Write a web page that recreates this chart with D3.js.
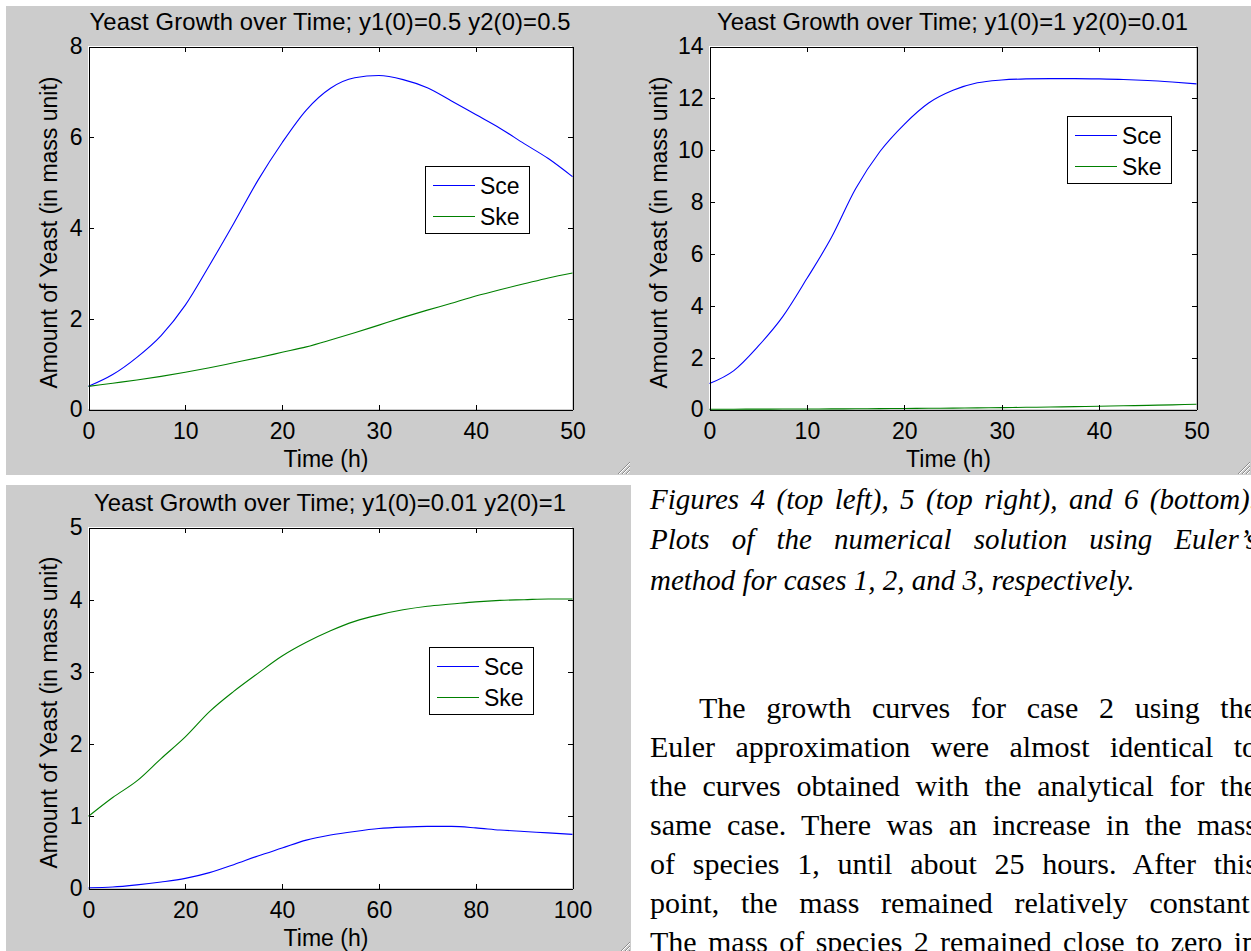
<!DOCTYPE html>
<html>
<head>
<meta charset="utf-8">
<script src="https://cdn.jsdelivr.net/npm/d3@7"></script>
<style>
  body { margin: 0; background: #fff; width: 1251px; height: 951px; overflow: hidden; position: relative; }
  svg { position: absolute; left: 0; top: 0; }
  .ln { position: absolute; left: 650px; width: 607px; font-family: 'Liberation Serif', 'Times New Roman', serif;
        font-size: 30px; line-height: 39px; text-align: justify; text-align-last: justify; color: #000; }
  .cap { font-style: italic; font-size: 29px; }
  .last { text-align-last: left; }
</style>
</head>
<body>
<script>
(function() {

    // Case 1: y1(0)=0.5 y2(0)=0.5
    var time1 = [0, 2.5, 5, 7.5, 10, 12.5, 15, 17.5, 20, 22.5, 25, 27.5, 30, 32.5, 35, 37.5, 40, 42.5, 45, 47.5, 50];
    var sce1 = [0.51, 0.77, 1.15, 1.63, 2.30, 3.18, 4.10, 5.05, 5.88, 6.60, 7.08, 7.31, 7.36, 7.27, 7.09, 6.80, 6.50, 6.20, 5.86, 5.53, 5.13];
    var ske1 = [0.51, 0.58, 0.65, 0.73, 0.82, 0.92, 1.03, 1.14, 1.26, 1.38, 1.53, 1.69, 1.86, 2.03, 2.19, 2.34, 2.50, 2.64, 2.77, 2.90, 3.01];
    var xTicks1 = [0, 10, 20, 30, 40, 50];
    var yTicks1 = [0, 2, 4, 6, 8];
    var title1 = 'Yeast Growth over Time; y1(0)=0.5 y2(0)=0.5';

    // Case 2: y1(0)=1 y2(0)=0.01
    var time2 = [0, 2.5, 5, 7.5, 10, 12.5, 15, 17.5, 20, 22.5, 25, 27.5, 30, 32.5, 35, 37.5, 40, 42.5, 45, 47.5, 50];
    var sce2 = [1.00, 1.50, 2.44, 3.57, 5.05, 6.62, 8.51, 9.95, 11.00, 11.82, 12.31, 12.60, 12.71, 12.75, 12.76, 12.76, 12.75, 12.73, 12.69, 12.63, 12.56];
    var ske2 = [0.01, 0.012, 0.014, 0.017, 0.02, 0.024, 0.028, 0.033, 0.039, 0.046, 0.054, 0.063, 0.073, 0.084, 0.097, 0.11, 0.125, 0.142, 0.16, 0.18, 0.2];
    var xTicks2 = [0, 10, 20, 30, 40, 50];
    var yTicks2 = [0, 2, 4, 6, 8, 10, 12, 14];
    var title2 = 'Yeast Growth over Time; y1(0)=1 y2(0)=0.01';

    // Case 3: y1(0)=0.01 y2(0)=1
    var time3 = [0, 5, 10, 15, 20, 25, 30, 35, 40, 45, 50, 55, 60, 65, 70, 75, 80, 85, 90, 95, 100];
    var sce3 = [0.01, 0.02, 0.05, 0.09, 0.14, 0.22, 0.33, 0.45, 0.56, 0.67, 0.74, 0.79, 0.83, 0.85, 0.86, 0.86, 0.84, 0.81, 0.79, 0.77, 0.75];
    var ske3 = [1.00, 1.26, 1.49, 1.80, 2.10, 2.45, 2.73, 2.98, 3.22, 3.41, 3.57, 3.70, 3.79, 3.86, 3.91, 3.94, 3.97, 3.99, 4.00, 4.01, 4.01];
    var xTicks3 = [0, 20, 40, 60, 80, 100];
    var yTicks3 = [0, 1, 2, 3, 4, 5];
    var title3 = 'Yeast Growth over Time; y1(0)=0.01 y2(0)=1';

    var seriesNames = ['Sce', 'Ske'];
    var seriesColors = ['#0000ff', '#008000'];
    var xLabel = 'Time (h)';
    var yLabel = 'Amount of Yeast (in mass unit)';

    var font = "'Liberation Sans', Arial, sans-serif";

    // Figure windows (grey background) and axes boxes
    var panels = [
        {bg: [6, 6, 625, 469], box: [88, 572, 46, 409], xMax: 50, yMax: 8, time: time1, sce: sce1, ske: ske1,
         xTicks: xTicks1, yTicks: yTicks1, title: title1, titleLen: 481, ylabX: 57, legend: [425, 166]},
        {bg: [631, 6, 620, 469], box: [709, 1196, 46, 409], xMax: 50, yMax: 14, time: time2, sce: sce2, ske: ske2,
         xTicks: xTicks2, yTicks: yTicks2, title: title2, titleLen: 471, ylabX: 667, legend: [1067, 116]},
        {bg: [6, 485, 625, 470], box: [88, 572, 527, 888], xMax: 100, yMax: 5, time: time3, sce: sce3, ske: ske3,
         xTicks: xTicks3, yTicks: yTicks3, title: title3, titleLen: 472, ylabX: 57, legend: [429, 647]}
    ];

    var svg = d3.select('body').append('svg')
        .attr('width', 1251)
        .attr('height', 951);

    panels.forEach(function(p, k) {
        var left = p.box[0], right = p.box[1], top = p.box[2], bottom = p.box[3];

        // grey figure background
        svg.append('rect')
            .attr('x', p.bg[0]).attr('y', p.bg[1])
            .attr('width', p.bg[2]).attr('height', p.bg[3])
            .attr('fill', '#cccccc');

        // resize grip in the corner
        var gx = p.bg[0] + p.bg[2] - 1, gy = p.bg[1] + p.bg[3] - 1;
        [4, 8, 12].forEach(function(o) {
            svg.append('line')
                .attr('x1', gx - o).attr('y1', gy).attr('x2', gx).attr('y2', gy - o)
                .attr('stroke', '#8c8c8c').attr('stroke-width', 1);
            svg.append('line')
                .attr('x1', gx - o + 1).attr('y1', gy).attr('x2', gx).attr('y2', gy - o + 1)
                .attr('stroke', '#ffffff').attr('stroke-width', 1);
        });

        // white axes area
        svg.append('rect')
            .attr('x', left).attr('y', top)
            .attr('width', right - left).attr('height', bottom - top)
            .attr('fill', '#ffffff');

        var x = d3.scaleLinear().domain([0, p.xMax]).range([left + 0.5, right + 0.5]);
        var y = d3.scaleLinear().domain([0, p.yMax]).range([bottom + 0.5, top + 0.5]);

        svg.append('clipPath').attr('id', 'clip' + k)
          .append('rect')
            .attr('x', left).attr('y', top - 1)
            .attr('width', right - left + 1).attr('height', bottom - top + 2);

        var line = d3.line()
            .x(function(d, i) { return x(p.time[i]); })
            .y(function(d) { return y(d); })
            .curve(d3.curveMonotoneX);

        [p.sce, p.ske].forEach(function(s, i) {
            svg.append('path')
                .datum(s)
                .attr('clip-path', 'url(#clip' + k + ')')
                .attr('fill', 'none')
                .attr('stroke', seriesColors[i])
                .attr('stroke-width', 1.1)
                .attr('d', line);
        });

        // axes on all four sides, ticks pointing inward
        var styleAxis = function(g) {
            g.attr('font-family', font).attr('font-size', 23).style('color', '#000');
            g.selectAll('path, line').attr('shape-rendering', 'crispEdges');
        };
        svg.append('g')
            .attr('transform', 'translate(0,' + (bottom + 0.5) + ')')
            .call(d3.axisBottom(x).tickValues(p.xTicks).tickFormat(d3.format('d'))
                .tickSizeInner(-5).tickSizeOuter(0).tickPadding(13))
            .call(styleAxis);
        svg.append('g')
            .attr('transform', 'translate(0,' + (top + 0.5) + ')')
            .call(d3.axisTop(x).tickValues(p.xTicks).tickSizeInner(-5).tickSizeOuter(0).tickFormat(''))
            .call(styleAxis);
        svg.append('g')
            .attr('transform', 'translate(' + (left + 0.5) + ',0)')
            .call(d3.axisLeft(y).tickValues(p.yTicks).tickFormat(d3.format('d'))
                .tickSizeInner(-5).tickSizeOuter(0).tickPadding(6))
            .call(styleAxis);
        svg.append('g')
            .attr('transform', 'translate(' + (right + 0.5) + ',0)')
            .call(d3.axisRight(y).tickValues(p.yTicks).tickSizeInner(-5).tickSizeOuter(0).tickFormat(''))
            .call(styleAxis);

        // title and axis labels
        svg.append('text')
            .attr('x', (left + right) / 2).attr('y', top - 16)
            .attr('text-anchor', 'middle')
            .attr('font-family', font).attr('font-size', 23.8)
            .attr('textLength', p.titleLen).attr('lengthAdjust', 'spacing')
            .text(p.title);
        svg.append('text')
            .attr('x', (left + right) / 2 - 4).attr('y', bottom + 58)
            .attr('text-anchor', 'middle')
            .attr('font-family', font).attr('font-size', 23)
            .text(xLabel);
        svg.append('text')
            .attr('transform', 'translate(' + p.ylabX + ',' + ((top + bottom) / 2 + 5) + ') rotate(-90)')
            .attr('text-anchor', 'middle')
            .attr('font-family', font).attr('font-size', 23)
            .text(yLabel);

        // legend
        var lg = svg.append('g').attr('transform', 'translate(' + p.legend[0] + ',' + p.legend[1] + ')');
        lg.append('rect')
            .attr('x', 0.5).attr('y', 0.5).attr('width', 104).attr('height', 67)
            .attr('fill', '#fff').attr('stroke', '#000').attr('stroke-width', 1);
        seriesNames.forEach(function(name, i) {
            var ly = 19.5 + i * 31;
            lg.append('line')
                .attr('x1', 8).attr('x2', 50).attr('y1', ly).attr('y2', ly)
                .attr('stroke', seriesColors[i]).attr('stroke-width', 1.1);
            lg.append('text')
                .attr('x', 55).attr('y', ly + 8)
                .attr('font-family', font).attr('font-size', 23)
                .text(name);
        });
    });

    // Caption and body text next to the bottom figure
    var captionLines = [
        'Figures 4 (top left), 5 (top right), and 6 (bottom).',
        'Plots of the numerical solution using Euler\u2019s',
        'method for cases 1, 2, and 3, respectively.'
    ];
    var captionBase = [509, 549, 590];
    var bodyLines = [
        'The growth curves for case 2 using the',
        'Euler approximation were almost identical to',
        'the curves obtained with the analytical for the',
        'same case. There was an increase in the mass',
        'of species 1, until about 25 hours. After this',
        'point, the mass remained relatively constant.',
        'The mass of species 2 remained close to zero in'
    ];
    var bodyBase = [718, 757, 796, 835, 874, 913, 952];

    captionLines.forEach(function(t, i) {
        d3.select('body').append('div')
            .attr('class', 'ln cap' + (i === captionLines.length - 1 ? ' last' : ''))
            .style('top', (captionBase[i] - 29.3) + 'px')
            .text(t);
    });
    bodyLines.forEach(function(t, i) {
        d3.select('body').append('div')
            .attr('class', 'ln')
            .style('top', (bodyBase[i] - 30) + 'px')
            .style('left', i === 0 ? '699px' : '650px')
            .style('width', i === 0 ? '558px' : '607px')
            .text(t);
    });

})();
</script>
</body>
</html>
